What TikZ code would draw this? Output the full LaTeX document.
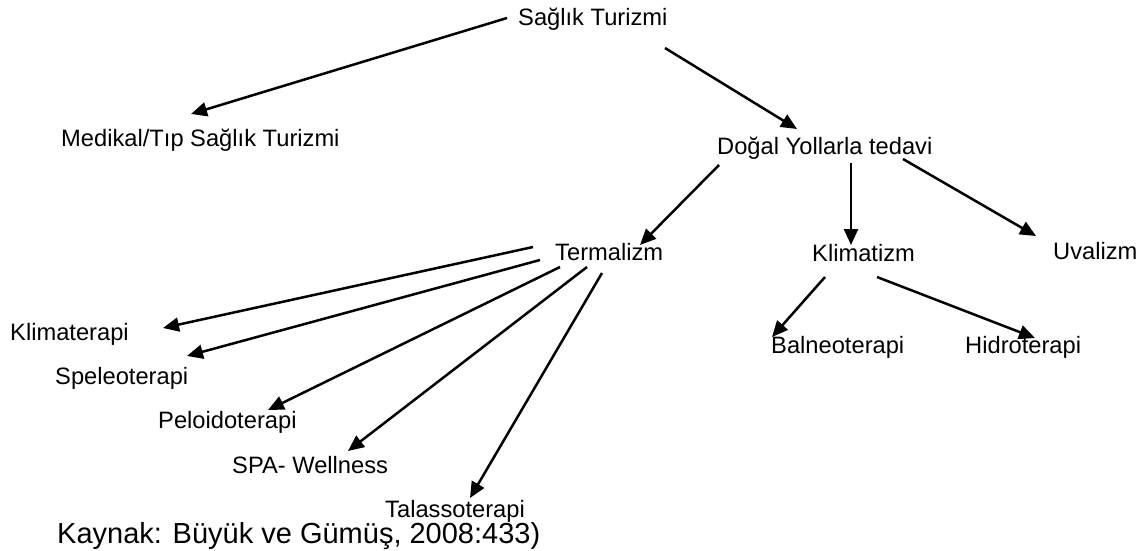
\documentclass[tikz,border=0pt]{standalone}
\usepackage{fontspec}
\setmainfont{Liberation Sans}
\usetikzlibrary{arrows.meta}
\begin{document}
\begin{tikzpicture}[x=1pt,y=-1pt,
  lbl/.style={anchor=base west,inner sep=0pt,font=\fontsize{23.7}{28}\selectfont},
  src/.style={anchor=base west,inner sep=0pt,font=\fontsize{29}{34}\selectfont},
  arr/.style={line width=2.5pt,-{Triangle[length=16pt,width=14pt]}}]
\useasboundingbox[fill=white] (0,0) rectangle (1146,551);
\node[lbl] (st)  at (518,26)  {Sağlık Turizmi};
\node[lbl] (med) at (61,146)  {Medikal/Tıp Sağlık Turizmi};
\node[lbl] (dyt) at (717,154) {Doğal Yollarla tedavi};
\node[lbl] (ter) at (555,260) {Termalizm};
\node[lbl] (kli) at (812,261) {Klimatizm};
\node[lbl] (uva) at (1053,259) {Uvalizm};
\node[lbl] (klt) at (10,340)  {Klimaterapi};
\node[lbl] (spe) at (55,384)  {Speleoterapi};
\node[lbl] (pel) at (158,428) {Peloidoterapi};
\node[lbl] (spa) at (232,473) {SPA- Wellness};
\node[lbl] (tal) at (385,517) {Talassoterapi};
\node[lbl] (bal) at (771,353) {Balneoterapi};
\node[lbl] (hid) at (965,353) {Hidroterapi};
\node[src] (kay) at (57,543)  {Kaynak: Büyük ve Gümüş, 2008:433)};
% level 1
\draw[arr] ([shift={(-11,-8)}]st.base west) -- ([shift={(130,-32)}]med.base west);
\draw[arr] ([shift={(147,22)}]st.base west) -- ([shift={(80,-25)}]dyt.base west);
% level 2
\draw[arr] ([shift={(2,11)}]dyt.base west) -- ([shift={(85,-15)}]ter.base west);
\draw[arr] ([shift={(134,9)}]dyt.base west) -- ([shift={(39,-16)}]kli.base west);
\draw[arr] ([shift={(186,5)}]dyt.base west) -- ([shift={(-17,-23)}]uva.base west);
% Termalizm
\draw[arr] ([shift={(-22,-13)}]ter.base west) -- ([shift={(153,-12)}]klt.base west);
\draw[arr] ([shift={(-15,0)}]ter.base west) -- ([shift={(132,-28)}]spe.base west);
\draw[arr] ([shift={(5,7)}]ter.base west) -- ([shift={(110,-18)}]pel.base west);
\draw[arr] ([shift={(32,7)}]ter.base west) -- ([shift={(116,-22)}]spa.base west);
\draw[arr] ([shift={(47,13)}]ter.base west) -- ([shift={(85,-19)}]tal.base west);
% Klimatizm
\draw[arr] ([shift={(13,16)}]kli.base west) -- ([shift={(1,-16)}]bal.base west);
\draw[arr] ([shift={(65,16)}]kli.base west) -- ([shift={(70,-15)}]hid.base west);
\end{tikzpicture}
\end{document}
